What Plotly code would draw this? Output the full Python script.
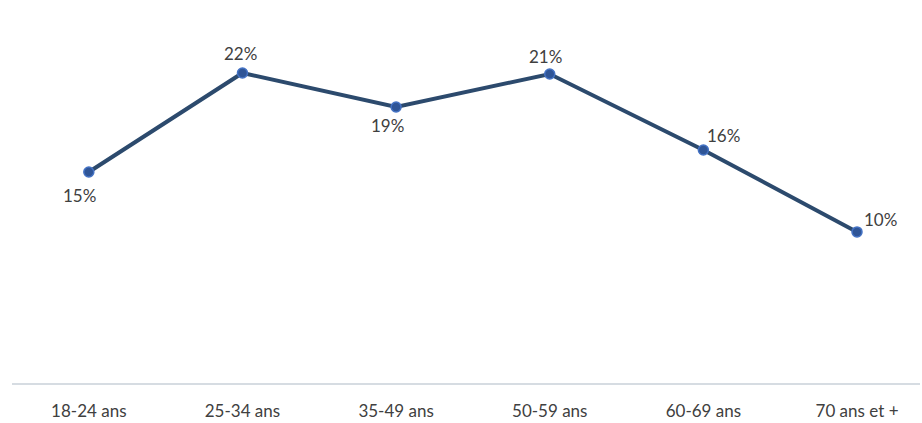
import plotly.graph_objects as go

categories = ["18-24 ans", "25-34 ans", "35-49 ans", "50-59 ans", "60-69 ans", "70 ans et +"]
values = [14.65, 21.53, 19.17, 21.46, 16.18, 10.49]
labels = ["15%", "22%", "19%", "21%", "16%", "10%"]
# label offsets (pixels) relative to each point
label_dx = [-9, -2, -9, -4, 20, 23]
label_dy = [-23, 19, -19, 17, 15, 12]

x_idx = list(range(len(categories)))
font_family = "Lato, Open Sans, sans-serif"

fig = go.Figure()
fig.add_trace(go.Scatter(
    x=x_idx, y=values,
    mode="lines+markers",
    line=dict(color="#2c4a6d", width=4),
    marker=dict(size=10, color="#2f5597", line=dict(color="#4472c4", width=1.5)),
    cliponaxis=False,
    hoverinfo="skip",
))

for xi, v, t, dx, dy in zip(x_idx, values, labels, label_dx, label_dy):
    fig.add_annotation(
        x=xi, y=v, text=t, showarrow=False,
        xanchor="center", yanchor="middle",
        xshift=dx, yshift=dy,
        font=dict(family=font_family, size=17, color="#404040"),
    )

fig.update_layout(
    width=922, height=423,
    margin=dict(l=12, r=2, t=23, b=40),
    paper_bgcolor="white", plot_bgcolor="white",
    showlegend=False,
    xaxis=dict(
        range=[-0.5, 5.41],
        tickvals=x_idx, ticktext=categories,
        showgrid=False, zeroline=False,
        showline=True, linecolor="#d6dce2", linewidth=2,
        ticks="outside", ticklen=12, tickcolor="rgba(0,0,0,0)",
        tickfont=dict(family=font_family, size=17, color="#404040"),
    ),
    yaxis=dict(
        range=[0, 25], visible=False, showgrid=False, zeroline=False,
    ),
)

fig.write_html("out.html", config={"displayModeBar": False},
               post_script="document.body.style.margin='0';")
